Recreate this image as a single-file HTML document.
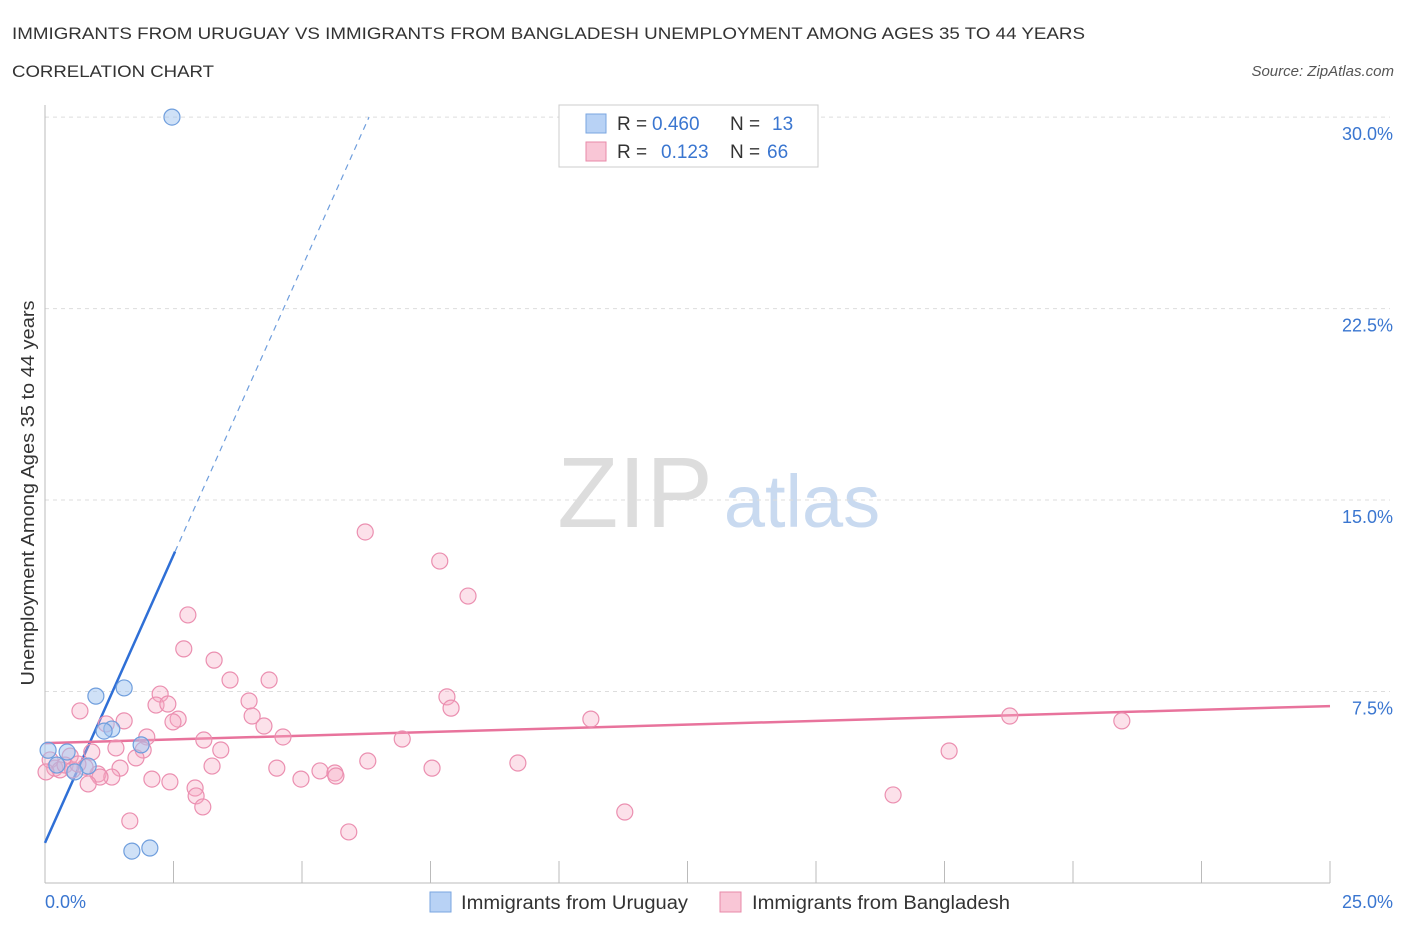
<!DOCTYPE html>
<html><head><meta charset="utf-8"><style>
body{margin:0;background:#fff;font-family:"Liberation Sans",sans-serif;}
svg text{font-family:"Liberation Sans",sans-serif;}
</style></head><body>
<svg id="c" width="1406" height="930" xmlns="http://www.w3.org/2000/svg">
<text x="12" y="39" font-size="17" fill="#333" textLength="1073" lengthAdjust="spacingAndGlyphs">IMMIGRANTS FROM URUGUAY VS IMMIGRANTS FROM BANGLADESH UNEMPLOYMENT AMONG AGES 35 TO 44 YEARS</text>
<text x="12" y="77" font-size="17" fill="#333" textLength="202" lengthAdjust="spacingAndGlyphs">CORRELATION CHART</text>
<text x="1394" y="76" font-size="15" fill="#555" font-style="italic" text-anchor="end">Source: ZipAtlas.com</text>
<text x="635" y="527" font-size="100" fill="#ddd" font-family="Liberation Serif" text-anchor="middle">ZIP</text>
<text x="802" y="527" font-size="74" fill="#c9daf0" text-anchor="middle">atlas</text>
<g id="grid"></g><g id="axes"></g><g id="lines"></g><g id="pts"></g>
<text transform="translate(34,493) rotate(-90)" font-size="18" fill="#333" text-anchor="middle" textLength="385" lengthAdjust="spacingAndGlyphs">Unemployment Among Ages 35 to 44 years</text>
<text x="45" y="908" font-size="18" fill="#3a76d0">0.0%</text>
<text x="1393" y="908" font-size="18" fill="#3a76d0" text-anchor="end">25.0%</text>
<g>
<rect x="559" y="105" width="259" height="62" fill="#fff" stroke="#ccc"/>
<rect x="586" y="114" width="20" height="19" fill="#b8d2f5" stroke="#7aa6e0"/>
<rect x="586" y="142" width="20" height="19" fill="#f9c6d6" stroke="#e88aa8"/>
<text x="617" y="130" font-size="19" fill="#333">R =</text>
<text x="652" y="130" font-size="19" fill="#3a76d0">0.460</text>
<text x="730" y="130" font-size="19" fill="#333">N =</text>
<text x="772" y="130" font-size="19" fill="#3a76d0">13</text>
<text x="617" y="158" font-size="19" fill="#333">R =</text>
<text x="661" y="158" font-size="19" fill="#3a76d0">0.123</text>
<text x="730" y="158" font-size="19" fill="#333">N =</text>
<text x="767" y="158" font-size="19" fill="#3a76d0">66</text>
</g>
<g>
<rect x="430" y="892" width="21" height="20" fill="#b8d2f5" stroke="#7aa6e0"/>
<text x="461" y="909" font-size="19" fill="#333" textLength="227" lengthAdjust="spacingAndGlyphs">Immigrants from Uruguay</text>
<rect x="720" y="892" width="21" height="20" fill="#f9c6d6" stroke="#e88aa8"/>
<text x="752" y="909" font-size="19" fill="#333" textLength="258" lengthAdjust="spacingAndGlyphs">Immigrants from Bangladesh</text>
</g>
</svg>
<script>
const yTicks=[7.5,15,22.5,30];
const yTickLabels=["7.5%","15.0%","22.5%","30.0%"];
const uruguayX=[2.47,1.54,0.99,1.30,1.15,1.87,0.43,0.06,0.84,0.58,0.23,1.69,2.04];
const uruguayY=[30.0,7.64,7.32,6.03,5.95,5.41,5.13,5.2,4.58,4.35,4.62,1.25,1.37];
const bangX=[6.23,7.68,8.23,2.78,2.70,3.29,3.60,4.36,2.24,7.82,3.97,2.16,2.39,7.90,0.68,4.03,2.59,2.49,1.54,1.19,4.26,10.62,18.77,20.95,1.98,4.63,3.09,6.95,1.38,1.91,3.42,0.91,0.49,17.59,1.77,6.28,9.2,3.25,1.46,4.51,7.53,5.35,5.64,5.66,1.03,1.30,1.07,4.98,2.08,2.43,0.84,2.92,2.94,16.50,3.07,11.28,1.65,5.91,0.19,0.10,0.29,0.39,0.54,0.78,0.02,0.64];
const bangY=[13.75,12.61,11.24,10.5,9.17,8.73,7.95,7.95,7.40,7.29,7.13,6.97,7.01,6.85,6.74,6.54,6.42,6.31,6.35,6.23,6.15,6.42,6.54,6.35,5.72,5.72,5.60,5.64,5.29,5.21,5.21,5.13,4.97,5.17,4.90,4.78,4.7,4.58,4.50,4.50,4.50,4.39,4.31,4.19,4.27,4.15,4.15,4.07,4.07,3.96,3.88,3.72,3.41,3.45,2.98,2.78,2.43,2.0,4.5,4.82,4.43,4.62,4.43,4.54,4.35,4.66];
const uruguayTrend=[1.57,4.51];   // intercept, slope
const bangTrend=[5.48,6.93];     // y at x=0, y at x=25
const X0=45,X1=1330,Y0=883,PPY=25.53;
const sx=v=>X0+(X1-X0)*v/25, sy=v=>Y0-v*PPY;
const NS="http://www.w3.org/2000/svg";
function mk(p,t,a){const e=document.createElementNS(NS,t);for(const k in a)e.setAttribute(k,a[k]);document.getElementById(p).appendChild(e);return e;}
yTicks.forEach((t,i)=>{
 let l=mk('grid','line',{x1:X0,x2:1390,y1:sy(t),y2:sy(t),stroke:'#ddd','stroke-dasharray':'4,4'});
 
 
 let tx=mk('grid','text',{x:1393,y:sy(t)+23,'font-size':18,fill:'#3a76d0','text-anchor':'end'});
 tx.textContent=yTickLabels[i];
 
 
});
let ax=mk('axes','line',{x1:X0,x2:X1,y1:Y0,y2:Y0,stroke:'#bbb'});


let ay=mk('axes','line',{x1:X0,x2:X0,y1:105,y2:Y0,stroke:'#bbb'});


for(let i=0;i<=10;i++){
 let t=mk('axes','line',{x1:sx(i*2.5),x2:sx(i*2.5),y1:Y0,y2:Y0-22,stroke:'#bbb'});
 
 
}
bangX.forEach((x,i)=>{
 let c=mk('pts','circle',{cx:sx(x),cy:sy(bangY[i]),r:8,fill:'rgba(245,170,195,0.35)',stroke:'#eb8fb0','stroke-width':1.2});
 
 
});
uruguayX.forEach((x,i)=>{
 let c=mk('pts','circle',{cx:sx(x),cy:sy(uruguayY[i]),r:8,fill:'rgba(160,195,240,0.5)',stroke:'#6f9edd','stroke-width':1.2});
 
 
});
const [ub,um]=[uruguayTrend[0],uruguayTrend[1]];
const xs=2.53, xe=(30-ub)/um;
let l1=mk('lines','line',{x1:sx(0),y1:sy(ub),x2:sx(xs),y2:sy(ub+um*xs),stroke:'#2f6fd6','stroke-width':2.5});


let l2=mk('lines','line',{x1:sx(xs),y1:sy(ub+um*xs),x2:sx(xe),y2:sy(30),stroke:'#6f9edd','stroke-width':1.2,'stroke-dasharray':'6,5'});


let l3=mk('lines','line',{x1:sx(0),y1:sy(bangTrend[0]),x2:sx(25),y2:sy(bangTrend[1]),stroke:'#e8739c','stroke-width':2.5});


</script>
</body></html>
